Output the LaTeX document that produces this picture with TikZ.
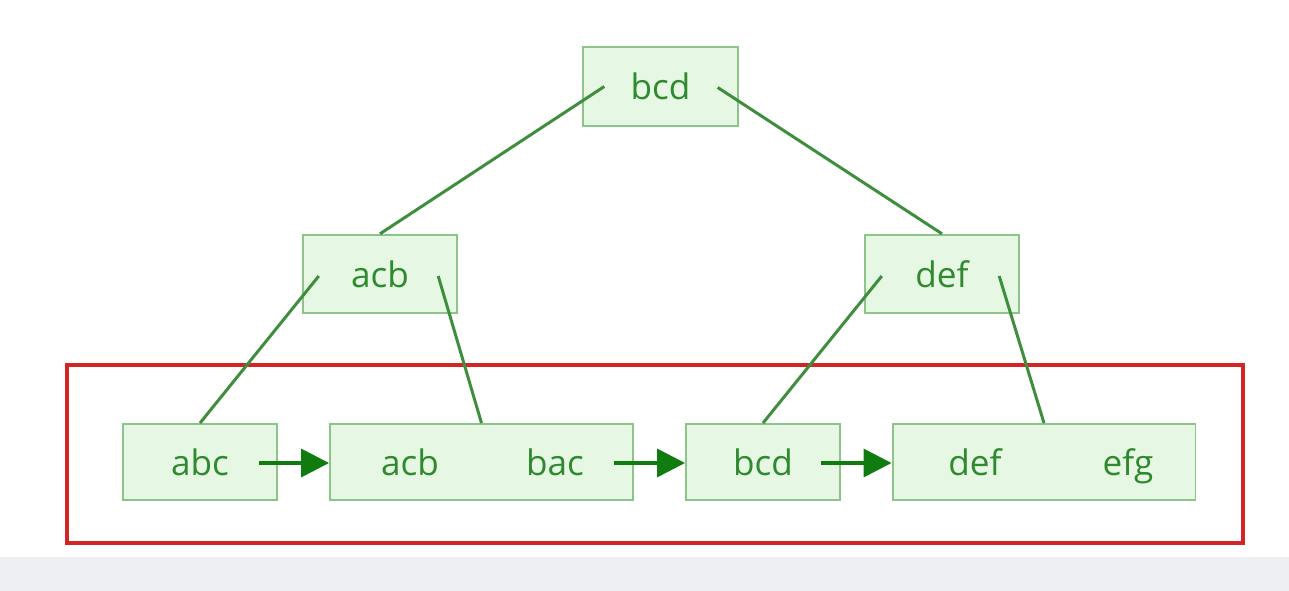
\documentclass[tikz,border=0pt]{standalone}
\usepackage{fontspec}
\setsansfont{Open Sans}
\usetikzlibrary{arrows.meta,calc,positioning}
\definecolor{boxfill}{HTML}{E6F8E4}
\definecolor{boxline}{HTML}{8CC48A}
\definecolor{keytext}{HTML}{2F8A2F}
\definecolor{edge}{HTML}{3E8E3E}
\definecolor{ptr}{HTML}{107C10}
\definecolor{frame}{HTML}{D42424}
\definecolor{band}{HTML}{EEEFF3}
\tikzset{
  key/.style={draw=boxline,fill=boxfill,line width=1.1pt,inner sep=0pt,
    text=keytext,font=\sffamily\fontsize{20}{24}\selectfont},
  inner/.style={key,minimum width=3.09cm,minimum height=1.57cm},
  leaf/.style={key,minimum width=3.08cm,minimum height=1.52cm},
  wideleaf/.style={key,minimum width=6.06cm,minimum height=1.52cm},
  label/.style={text=keytext,inner sep=0pt,text depth=0pt,
    font=\sffamily\fontsize{20}{24}\selectfont},
  branch/.style={draw=edge,line width=1.7pt},
  link/.style={draw=ptr,line width=2pt,-{Triangle[length=0.56cm,width=0.56cm]}}
}
\begin{document}
\begin{tikzpicture}[x=0.02cm,y=-0.02cm]
  \useasboundingbox (0,0) rectangle (1289,591);
  \fill[band] (0,557) rectangle (1289,591);
  % upper levels
  \node[inner] (root) at (660.5,86.5) {bcd};
  \node[inner] (left) at (380,274) {acb};
  \node[inner] (right) at (942,274) {def};
  % leaf level
  \node[leaf] (leafA) at (200,462) {abc};
  \node[wideleaf] (leafB) at (481.5,462) {};
  \node[leaf] (leafC) at (763,462) {bcd};
  \node[wideleaf] (leafD) at (1044,462) {};
  \node[label] (keyB1) at (410,462) {acb};
  \node[label] (keyB2) at (555,462) {bac};
  \node[label] (keyD1) at (975,462) {def};
  \node[label] (keyD2) at (1128,462) {efg};
  \draw[frame,line width=2.3pt] (67,365) rectangle (1243,543);
  % tree edges
  \draw[branch] ($(root.west)+(22,0)$) -- (left.north);
  \draw[branch] ($(root.east)+(-21,1)$) -- (right.north);
  \draw[branch] ($(left.west)+(17,2)$) -- (leafA.north);
  \draw[branch] ($(left.east)+(-20,2)$) -- (leafB.north);
  \draw[branch] ($(right.west)+(18,2)$) -- (leafC.north);
  \draw[branch] ($(right.east)+(-21,2)$) -- (leafD.north);
  % leaf chain
  \draw[link] ($(leafA.east)+(-19,1)$) -- (leafB.west |- 0,463);
  \draw[link] ($(leafB.east)+(-20,1)$) -- (leafC.west |- 0,463);
  \draw[link] ($(leafC.east)+(-20,1)$) -- (leafD.west |- 0,463);
\end{tikzpicture}
\end{document}
